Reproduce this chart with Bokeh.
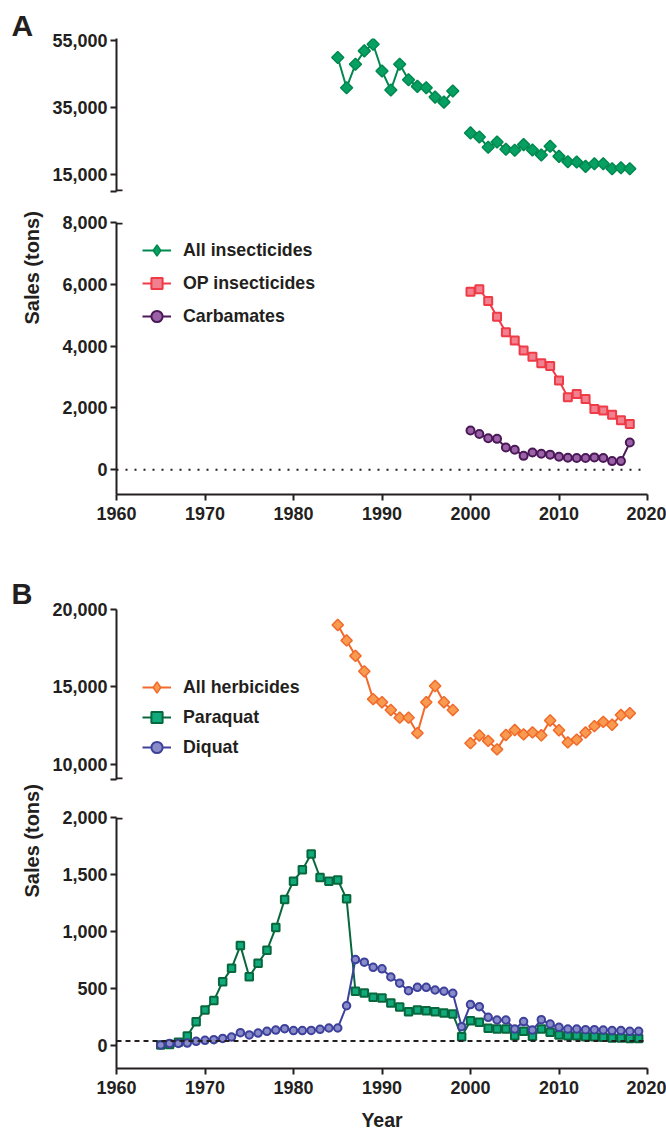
import math
import numpy as np
from bokeh.plotting import figure
from bokeh.layouts import column
from bokeh.models import (FixedTicker, NumeralTickFormatter, Span, Legend, Title,
                          LegendItem, Arrow, Range1d)
from bokeh.embed import file_html
from bokeh.resources import INLINE

NAN = np.nan

# ---------------- data ----------------
ins_years = list(range(1985, 2019))
all_insecticides = [50000, 41000, 48000, 52000, 54000, 46000, 40300, 48000, 43400, 41400,
                    41000, 38200, 36700, 40000, NAN, 27500, 26300, 23200, 24800, 22600,
                    22300, 24000, 22400, 20900, 23500, 20500, 18900, 18800, 17500, 18300,
                    18300, 16800, 17100, 16800]
op_years = list(range(2000, 2019))
op_insecticides = [5760, 5840, 5460, 4950, 4450, 4180, 3860, 3660, 3450, 3360,
                   2890, 2350, 2450, 2290, 1970, 1920, 1780, 1600, 1480]
carbamates = [1270, 1160, 1020, 1000, 720, 650, 450, 560, 520, 490,
              420, 390, 380, 380, 400, 380, 280, 280, 880]

herb_years = list(range(1985, 2019))
all_herbicides = [19000, 18000, 17000, 16000, 14200, 14000, 13500, 13000, 13000, 12000,
                  14000, 15050, 14000, 13500, NAN, 11350, 11850, 11500, 10950, 11880,
                  12200, 11920, 12050, 11860, 12820, 12190, 11400, 11580, 12040, 12450,
                  12730, 12540, 13170, 13290]
pd_years = list(range(1965, 2020))
paraquat = [5, 10, 30, 85, 210, 313, 395, 561, 678, 877,
            605, 722, 836, 1035, 1281, 1442, 1541, 1681, 1474, 1442,
            1453, 1287, 477, 462, 424, 418, 374, 340, 298, 313,
            307, 298, 287, 278, 79, 219, 205, 152, 146, 146,
            88, 126, 82, 146, 117, 94, 88, 88, 79, 79,
            73, 67, 67, 64, 64]
diquat = [6, 20, 20, 23, 38, 47, 53, 64, 76, 114,
          94, 111, 126, 137, 149, 132, 132, 134, 143, 155,
          155, 350, 755, 732, 687, 674, 602, 548, 482, 512,
          512, 488, 477, 459, 167, 360, 342, 249, 225, 225,
          146, 211, 137, 228, 190, 161, 146, 146, 140, 140,
          137, 132, 132, 126, 126]

x_ticks = [1960, 1970, 1980, 1990, 2000, 2010, 2020]
a_up_ticks = [15000, 35000, 55000]
a_low_ticks = [0, 2000, 4000, 6000, 8000]
b_up_ticks = [10000, 15000, 20000]
b_low_ticks = [0, 500, 1000, 1500, 2000]

# ---------------- style ----------------
W = 666
X0, X1 = 1960, 2020
FRAME_L, FRAME_R = 116, 647
TXT = "#231f20"
FONT = "Liberation Sans"
C_INS = ("#00884f", "#07a063")
C_OP = ("#ee3b46", "#f2808f")
C_CARB = ("#4b1858", "#9c62a8")
C_HERB = ("#f26a2b", "#f89a50")
C_PQ = ("#08683d", "#11aa7c")
C_DQ = ("#3d419b", "#8a8cc9")
CAP = 0.68  # half width of axis-break caps, in years
D45 = math.pi / 4


def make_fig(height, y0, y1, btop, bbottom, xaxis):
    p = figure(width=W, height=height, x_range=Range1d(X0, X1), y_range=Range1d(y0, y1),
               output_backend="svg", toolbar_location=None,
               min_border_left=FRAME_L, min_border_right=W - FRAME_R,
               min_border_top=btop, min_border_bottom=bbottom,
               x_axis_location="below" if xaxis else None)
    p.outline_line_color = None
    p.grid.visible = False
    p.background_fill_color = "white"
    p.border_fill_color = "white"
    axes = list(p.yaxis) + (list(p.xaxis) if xaxis else [])
    for ax in axes:
        ax.major_label_text_font = FONT
        ax.major_label_text_font_style = "bold"
        ax.major_label_text_font_size = "18px"
        ax.major_label_text_color = TXT
        ax.axis_line_width = 2
        ax.axis_line_color = TXT
        ax.major_tick_line_width = 2
        ax.major_tick_line_color = TXT
        ax.major_tick_out = 6
        ax.major_tick_in = 0
        ax.minor_tick_line_color = None
    p.yaxis.major_label_standoff = 3
    p.yaxis.formatter = NumeralTickFormatter(format="0,0")
    if xaxis:
        p.xaxis.ticker = FixedTicker(ticks=x_ticks)
        p.xaxis.major_label_standoff = 6
    return p


def y_ticks(p, ticks, cap_value=None):
    if cap_value is None:
        p.yaxis.ticker = FixedTicker(ticks=ticks)
    else:
        p.yaxis.ticker = FixedTicker(ticks=[cap_value] + ticks)
        p.yaxis.major_label_overrides = {cap_value: ""}


def inner_cap(p, yv):
    p.add_layout(Arrow(end=None, x_start=X0, y_start=yv, x_end=X0 + CAP, y_end=yv,
                       line_width=2, line_color=TXT))


def series(p, x, y, colors, marker, size, lw=1.5, angle=0.0):
    rl = p.line(x, y, line_color=colors[0], line_width=2)
    rs = p.scatter(x, y, marker=marker, size=size, angle=angle, fill_color=colors[1],
                   line_color=colors[0], line_width=lw)
    return rl, rs


def legend_proxy(p, x, y, colors, marker, size, lw=1.5):
    rl = p.line(x, y, line_color=colors[0], line_width=2, visible=False)
    rs = p.scatter(x, y, marker=marker, size=size, fill_color=colors[1],
                   line_color=colors[0], line_width=lw, visible=False)
    return [rl, rs]


def add_legend(p, items, loc, spacing):
    leg = Legend(items=items, location=loc)
    leg.label_text_font = FONT
    leg.label_text_font_style = "bold"
    leg.label_text_font_size = "17.8px"
    leg.label_text_color = TXT
    leg.glyph_width = 29
    leg.glyph_height = 28
    leg.label_height = 28
    leg.spacing = spacing
    leg.padding = 0
    leg.margin = 0
    leg.label_standoff = 12
    leg.border_line_color = None
    leg.background_fill_alpha = 0
    p.add_layout(leg)


def panel_letter(p, letter, standoff, size):
    p.title.text = letter
    p.title.align = "left"
    p.title.offset = -105
    p.title.standoff = standoff
    p.title.vertical_align = "bottom"
    p.title.text_font = FONT
    p.title.text_font_size = size
    p.title.text_font_style = "bold"
    p.title.text_color = TXT


def sales_title(p, offset, standoff):
    t = Title(text="Sales (tons)", align="left", offset=offset, standoff=standoff,
              vertical_align="bottom", text_font=FONT, text_font_size="20px",
              text_font_style="bold", text_color=TXT)
    p.add_layout(t, "left")


# ---------------- panel A, upper ----------------
a_up = make_fig(195, 10000, 55700, 38, 4, False)
y_ticks(a_up, a_up_ticks, 10000)
inner_cap(a_up, 10300)
series(a_up, ins_years, all_insecticides, C_INS, "square", 8.5, angle=D45)
panel_letter(a_up, "A", -6, "30px")

# ---------------- panel A, lower ----------------
a_low = make_fig(345, -800, 8000, 27, 46, True)
y_ticks(a_low, a_low_ticks)
inner_cap(a_low, 7968)
a_low.add_layout(Span(location=0, dimension="width", line_color=TXT, line_width=2,
                      line_dash="2 7"))
op_r = series(a_low, op_years, op_insecticides, C_OP, "square", 8, lw=2)
carb_r = series(a_low, op_years, carbamates, C_CARB, "circle", 8, lw=2)
ins_proxy = legend_proxy(a_low, ins_years, all_insecticides, C_INS, "diamond", 10)
add_legend(a_low, [LegendItem(label="All insecticides", renderers=ins_proxy),
                   LegendItem(label="OP insecticides", renderers=list(op_r)),
                   LegendItem(label="Carbamates", renderers=list(carb_r))], (26, 164), 5)
sales_title(a_low, 170, 34)

# ---------------- panel B, upper ----------------
b_up = make_fig(241, 9000, 20000, 69, 2, False)
y_ticks(b_up, b_up_ticks, 9000)
inner_cap(b_up, 9065)
series(b_up, herb_years, all_herbicides, C_HERB, "square", 8, angle=D45)
herb_proxy = legend_proxy(b_up, herb_years, all_herbicides, C_HERB, "diamond", 10)
pq_proxy = legend_proxy(b_up, pd_years, paraquat, C_PQ, "square", 7.5, lw=2)
dq_proxy = legend_proxy(b_up, pd_years, diquat, C_DQ, "circle", 7.5, lw=2)
add_legend(b_up, [LegendItem(label="All herbicides", renderers=herb_proxy),
                  LegendItem(label="Paraquat", renderers=pq_proxy),
                  LegendItem(label="Diquat", renderers=dq_proxy)], (26, 18), 2)
panel_letter(b_up, "B", 0, "29px")

# ---------------- panel B, lower ----------------
b_low = make_fig(352, -200, 2000, 36, 65, True)
y_ticks(b_low, b_low_ticks)
inner_cap(b_low, 1991)
b_low.add_layout(Span(location=40, dimension="width", line_color=TXT, line_width=2,
                      line_dash="5 4"))
series(b_low, pd_years, paraquat, C_PQ, "square", 7.5, lw=2)
series(b_low, pd_years, diquat, C_DQ, "circle", 7.5, lw=2)
b_low.xaxis.axis_label = "Year"
b_low.xaxis.axis_label_text_font = FONT
b_low.xaxis.axis_label_text_font_style = "bold"
b_low.xaxis.axis_label_text_font_size = "19.5px"
b_low.xaxis.axis_label_text_color = TXT
b_low.xaxis.axis_label_standoff = 12
sales_title(b_low, 171, 34)

layout = column(a_up, a_low, b_up, b_low, spacing=0)
open("out.html", "w").write(file_html(layout, INLINE))
